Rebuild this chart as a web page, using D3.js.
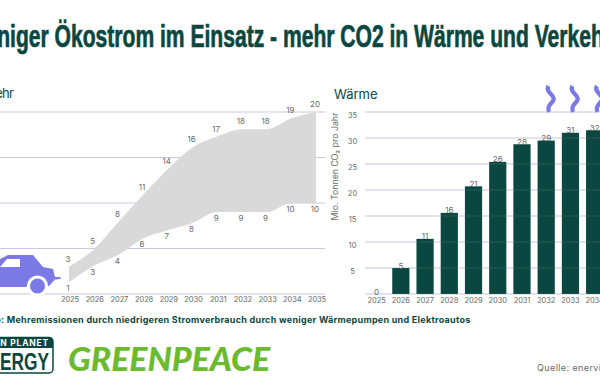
<!DOCTYPE html>
<html><head><meta charset="utf-8">
<script src="https://cdnjs.cloudflare.com/ajax/libs/d3/7.8.5/d3.min.js"></script>
<style>html,body{margin:0;padding:0;background:#fff;overflow:hidden}svg{display:block}text{font-family:Inter,"Noto Sans",sans-serif}</style>
</head><body><svg id="c" width="600" height="390"></svg>
<script>
const years = [2025,2026,2027,2028,2029,2030,2031,2032,2033,2034,2035];
const verkehrHigh = [3,4.9,7.9,10.9,13.7,16.1,17.3,18.1,18.1,19.3,20];
const verkehrLow = [1.3,3.1,4.3,6.1,7,7.8,9,9,9,10,10];
const verkehrHighLabels = [3,5,8,11,14,16,17,18,18,19,20];
const verkehrLowLabels = [1,3,4,6,7,8,9,9,9,10,10];
const waerme = [0,5,10.6,15.6,20.7,25.4,28.8,29.5,31,31.5,32];
const waermeLabels = [0,5,11,16,21,26,28,29,31,32,32];
const leftTicks = [0,5,10,15,20];
const rightTicks = [0,5,10,15,20,25,30,35];
const DARK="#0b4741", GRID="#c9c8de", PURPLE="#7b79e6", GREY="#646b6a", GREEN="#6cba2e";
const svg=d3.select("#c");

svg.append("text").attr("x",-34).attr("y",47).attr("textLength",646).attr("lengthAdjust","spacingAndGlyphs")
 .style("font-family",'"Liberation Sans Narrow","Liberation Sans",sans-serif').style("font-weight",700).style("font-size","31px")
 .attr("fill",DARK).attr("stroke",DARK).attr("stroke-width",0.7)
 .text("Weniger Ökostrom im Einsatz - mehr CO2 in Wärme und Verkehr");

// Left chart
const xL=d3.scaleLinear().domain([2025,2035]).range([69,316]);
const yL=d3.scaleLinear().domain([0,20]).range([294,112]);
svg.append("g").selectAll("line").data(leftTicks).join("line")
 .attr("x1",-10).attr("x2",325).attr("y1",d=>yL(d)).attr("y2",d=>yL(d)).attr("stroke",GRID).attr("stroke-width",1);
svg.append("path").datum(years.map((y,i)=>({y,h:verkehrHigh[i],l:verkehrLow[i]})))
 .attr("fill","#d9d9d9")
 .attr("d",d3.area().x(d=>xL(d.y)).y0(d=>yL(d.l)).y1(d=>yL(d.h)).curve(d3.curveMonotoneX));
const lab=(g,data,x,y,s=8)=>g.selectAll("text").data(data).join("text").attr("x",x).attr("y",y)
 .attr("text-anchor","middle").attr("fill",GREY).style("font-size",s+"px").text(d=>d.t);
lab(svg.append("g"),years.map((y,i)=>({y,v:verkehrHigh[i],t:verkehrHighLabels[i]})),d=>xL(d.y)-1,d=>yL(d.v)-5);
lab(svg.append("g"),years.map((y,i)=>({y,v:verkehrLow[i],t:verkehrLowLabels[i]})),d=>xL(d.y)-1,d=>yL(d.v)+9);
lab(svg.append("g"),years.map(y=>({y,t:y})),d=>xL(d.y)+1,()=>302,7.5).style("letter-spacing","-0.1px");
svg.append("text").attr("x",-30).attr("y",98).attr("fill",DARK).style("font-size","13px").text("Verkehr").attr("textLength",44);

// Car
svg.append("g").call(g=>{
 g.append("path").attr("fill",PURPLE).attr("fill-rule","evenodd")
  .attr("d","M-8 287V263L0 259L8 255H33L43 267L53 269L55 277H60.5V279L55 279.5L49 286H27L26 287ZM7 259L0 267H20V259Z");
 g.append("circle").attr("cx",37.5).attr("cy",286).attr("r",10.5).attr("fill","#fff");
 g.append("circle").attr("cx",37.5).attr("cy",286).attr("r",7.5).attr("fill",PURPLE);
});

// Right chart
const xR=d3.scaleBand().domain(years).range([364.5,631]).paddingInner(0.29).paddingOuter(0.145);
const yR=d3.scaleLinear().domain([0,35]).range([294,112]);
svg.append("g").selectAll("line").data(rightTicks).join("line")
 .attr("x1",365).attr("x2",610).attr("y1",d=>yR(d)).attr("y2",d=>yR(d)).attr("stroke",GRID).attr("stroke-width",1);
const wave="M2 0C-2 6 9 9 7 14C5 18 0 20 2.5 26";
svg.append("g").selectAll("path").data([546.5,570.5,595]).join("path").attr("d",wave).attr("fill","none").attr("stroke",PURPLE).attr("stroke-width",4.2)
 .attr("transform",d=>`translate(${d},86)`);
svg.append("g").selectAll("rect").data(years.map((y,i)=>({y,v:waerme[i]}))).join("rect")
 .attr("x",d=>xR(d.y)).attr("width",xR.bandwidth()).attr("y",d=>yR(d.v)).attr("height",d=>yR(0)-yR(d.v)).attr("fill",DARK);
svg.append("g").selectAll("line").data(rightTicks).join("line")
 .attr("x1",365).attr("x2",610).attr("y1",d=>yR(d)).attr("y2",d=>yR(d)).attr("stroke",GRID).attr("stroke-opacity",0.15);
lab(svg.append("g"),years.map((y,i)=>({y,v:waerme[i],t:waermeLabels[i]})),d=>xR(d.y)+xR.bandwidth()/2,d=>yR(d.v)+0.5);
lab(svg.append("g"),years.map(y=>({y,t:y})),d=>xR(d.y)+xR.bandwidth()/2,()=>303,7.5).style("letter-spacing","-0.1px");
svg.append("g").selectAll("text").data(rightTicks.slice(1)).join("text").attr("x",352.5).attr("text-anchor","middle")
 .attr("y",d=>yR(d)+5.5).attr("fill",GREY).style("font-size","7.5px").text(d=>d);
svg.append("text").attr("x",334).attr("y",99).attr("fill",DARK).style("font-size","13px").text("Wärme");
svg.append("text").attr("transform","translate(338,166.5) rotate(-90)").attr("text-anchor","middle").attr("fill",GREY)
 .style("font-size","8.8px").text("Mio. Tonnen CO₂ pro Jahr");

// Footer
svg.append("text").attr("x",-17).attr("y",323).attr("fill",DARK).style("font-size","9px").style("font-weight",700)
 .style("letter-spacing","0.27px").text("Info: Mehremissionen durch niedrigeren Stromverbrauch durch weniger Wärmepumpen und Elektroautos");
svg.append("text").attr("x",537).attr("y",371).attr("fill",GREY).style("font-size","9px").style("letter-spacing","0.4px").text("Quelle: enervis");

// Logos
svg.append("rect").attr("x",-40).attr("y",337.5).attr("width",93).attr("height",35.5).attr("rx",4).attr("fill","#fff").attr("stroke",DARK).attr("stroke-width",1.5);
svg.append("path").attr("d","M-40 337H49Q53 337 53 341V348H-40Z").attr("fill",DARK);
svg.append("text").attr("x",49).attr("y",346).attr("text-anchor","end").attr("fill","#fff").style("font-size","8.5px").style("font-weight",700).style("letter-spacing","0.8px").text("GREEN PLANET");
svg.append("text").attr("x",-24).attr("y",370).attr("textLength",73).attr("lengthAdjust","spacingAndGlyphs").attr("fill",DARK)
 .style("font-family",'"Liberation Sans Narrow","Liberation Sans",sans-serif').style("font-size","23px").style("font-weight",700).text("ENERGY");
svg.append("text").attr("x",68).attr("y",371).attr("textLength",202).attr("lengthAdjust","spacingAndGlyphs").attr("fill",GREEN)
 .style("font-family","Lato,Inter,sans-serif").style("font-size","33px").style("font-weight",900).style("font-style","italic").text("GREENPEACE");
</script></body></html>
